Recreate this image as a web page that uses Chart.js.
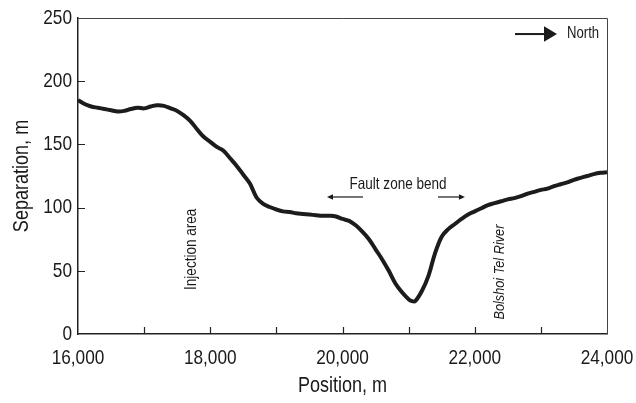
<!DOCTYPE html>
<html>
<head>
<meta charset="utf-8">
<script src="https://cdn.jsdelivr.net/npm/chart.js@4"></script>
<style>
  html, body { margin: 0; padding: 0; background: #fff; }
  #wrap { width: 636px; height: 403px; }
</style>
</head>
<body>
<div id="wrap"><canvas id="c" width="636" height="403"></canvas></div>
<script>
// ---- data ----
const positions = [16000,16100,16200,16300,16400,16500,16600,16700,16800,16900,
  17000,17100,17200,17300,17400,17500,17600,17700,17800,17900,
  18000,18100,18200,18300,18400,18500,18600,18700,18800,18900,
  19000,19100,19200,19300,19400,19500,19600,19700,19800,19900,
  20000,20100,20200,20300,20400,20500,20600,20700,20800,20900,
  21000,21050,21100,21200,21300,21400,21500,21600,21700,21800,21900,
  22000,22100,22200,22300,22400,22500,22600,22700,22800,22900,
  23000,23100,23200,23300,23400,23500,23600,23700,23800,23900,24000];
const separation = [185,182,180,179,178,177,176,176.5,178,179,
  178.5,180,181,180.5,178.5,176.5,173,168.5,162,156,
  152,148,145,139,133,126,119,108,103,100.5,
  98.5,97,96.5,95.5,95,94.5,94,93.5,93.5,93,
  91,89.5,86,81,75,67,59,50,40,33,
  27.5,26,26,34,46,64,77,83,87,91,94.5,
  97,99.5,102,103.5,105,106.5,107.5,109,111,112.5,
  114,115,117,118.5,120,122,123.5,125,126.5,127.5,128];
const yTicks = [0,50,100,150,200,250];
const xTickLabels = ['16,000','18,000','20,000','22,000','24,000'];

// annotations (data units)
const textNotes = [
  {text:'Injection area', x:17720, y:67, rot:-90, italic:false, size:16.5},
  {text:'Bolshoi Tel River', x:22370, y:49, rot:-90, italic:true, size:15.5},
  {text:'Fault zone bend', x:20840, y:118, rot:0, italic:false, align:'center', size:16.5},
  {text:'North', x:23395, y:237.5, rot:0, italic:false, align:'left', size:16}
];
const arrows = [
  {x1:20310, x2:19766, y:108.4, head:6},
  {x1:21444, x2:21852, y:108.4, head:6},
  {x1:22609, x2:23244, y:237.3, head:13}
];

const FONT = '"Liberation Sans", Arial, sans-serif';
const NARROW = 0.82;

const canvas = document.getElementById('c');
const c2d = canvas.getContext('2d');
// condensed text rendering (Arial Narrow look)
const origFill = c2d.fillText.bind(c2d);
const origMeasure = c2d.measureText.bind(c2d);
c2d.fillText = function (t, x, y, mw) {
  this.save();
  this.translate(x, y);
  this.scale(NARROW, 1);
  if (mw !== undefined) origFill(t, 0, 0, mw / NARROW); else origFill(t, 0, 0);
  this.restore();
};
c2d.measureText = function (t) {
  const m = origMeasure(t);
  return {
    width: m.width * NARROW,
    actualBoundingBoxAscent: m.actualBoundingBoxAscent,
    actualBoundingBoxDescent: m.actualBoundingBoxDescent,
    actualBoundingBoxLeft: m.actualBoundingBoxLeft * NARROW,
    actualBoundingBoxRight: m.actualBoundingBoxRight * NARROW
  };
};

const decor = {
  id: 'decor',
  afterDraw(chart) {
    const ctx = chart.ctx, a = chart.chartArea;
    const xs = chart.scales.x, ys = chart.scales.y;
    ctx.save();
    // top/right frame
    ctx.strokeStyle = '#444'; ctx.lineWidth = 1;
    ctx.beginPath();
    ctx.moveTo(a.left, a.top + 0.5); ctx.lineTo(a.right + 0.5, a.top + 0.5); ctx.lineTo(a.right + 0.5, a.bottom);
    ctx.stroke();
    // inward ticks
    ctx.strokeStyle = '#222'; ctx.lineWidth = 1.2;
    ctx.beginPath();
    xs.ticks.forEach(t => {
      if (t.value <= xs.min || t.value >= xs.max) return;
      const px = Math.round(xs.getPixelForValue(t.value)) + 0.5;
      ctx.moveTo(px, a.bottom); ctx.lineTo(px, a.bottom - 7);
    });
    ys.ticks.forEach(t => {
      if (t.value <= ys.min || t.value >= ys.max) return;
      const py = Math.round(ys.getPixelForValue(t.value)) + 0.5;
      ctx.moveTo(a.left, py); ctx.lineTo(a.left + 7, py);
    });
    ctx.stroke();
    // texts
    ctx.fillStyle = '#1a1a1a';
    textNotes.forEach(n => {
      const px = xs.getPixelForValue(n.x), py = ys.getPixelForValue(n.y);
      ctx.save();
      ctx.translate(px, py);
      ctx.rotate(n.rot * Math.PI / 180);
      ctx.font = (n.italic ? 'italic ' : '') + n.size + 'px ' + FONT;
      ctx.textAlign = n.rot ? 'center' : (n.align || 'center');
      ctx.textBaseline = 'middle';
      ctx.fillText(n.text, 0, 0);
      ctx.restore();
    });
    // arrows
    arrows.forEach(ar => {
      const x1 = xs.getPixelForValue(ar.x1), x2 = xs.getPixelForValue(ar.x2), y = ys.getPixelForValue(ar.y);
      const dir = Math.sign(x2 - x1);
      const h = ar.head;
      ctx.strokeStyle = '#1a1a1a';
      ctx.lineWidth = h > 8 ? 2 : 1.2;
      ctx.beginPath(); ctx.moveTo(x1, y); ctx.lineTo(x2 - dir * h * 0.8, y); ctx.stroke();
      ctx.beginPath();
      ctx.moveTo(x2, y);
      ctx.lineTo(x2 - dir * h, y - h * (h > 8 ? 0.6 : 0.45));
      ctx.lineTo(x2 - dir * h, y + h * (h > 8 ? 0.6 : 0.45));
      ctx.closePath(); ctx.fill();
    });
    ctx.restore();
  }
};

new Chart(canvas, {
  type: 'line',
  data: {
    datasets: [{
      data: positions.map((p, i) => ({x: p, y: separation[i]})),
      borderColor: '#1c1c1c',
      borderWidth: 4,
      pointRadius: 0,
      tension: 0.35,
      fill: false
    }]
  },
  options: {
    responsive: false,
    animation: false,
    devicePixelRatio: 1,
    layout: { padding: { top: 18, right: 29, left: 0, bottom: 0 } },
    plugins: { legend: { display: false }, tooltip: { enabled: false } },
    scales: {
      x: {
        type: 'linear', min: 16000, max: 24000,
        afterFit(s) { s.height = 69; s.paddingLeft = 0; s.paddingRight = 0; },
        border: { color: '#222', width: 1.5 },
        grid: { display: true, drawOnChartArea: false, drawTicks: false, color: 'rgba(0,0,0,0)' },
        ticks: {
          stepSize: 1000, padding: 12, maxRotation: 0, autoSkip: false,
          color: '#1a1a1a', font: { family: FONT, size: 21 },
          callback(v) { return v % 2000 === 0 ? xTickLabels[(v - 16000) / 2000] : ''; }
        },
        title: { display: true, text: 'Position, m', color: '#1a1a1a',
          font: { family: FONT, size: 22 }, padding: { top: 0, bottom: 4 } }
      },
      y: {
        min: 0, max: 250,
        afterFit(s) { s.width = 78; s.paddingTop = 0; s.paddingBottom = 0; },
        afterBuildTicks(s) { s.ticks = yTicks.map(v => ({value: v})); },
        border: { color: '#222', width: 1.5 },
        grid: { display: true, drawOnChartArea: false, drawTicks: false, color: 'rgba(0,0,0,0)' },
        ticks: { padding: 6, color: '#1a1a1a', font: { family: FONT, size: 21 } },
        title: { display: true, text: 'Separation, m', color: '#1a1a1a',
          font: { family: FONT, size: 22 }, padding: { top: 9, bottom: 0 } }
      }
    }
  },
  plugins: [decor]
});
</script>
</body>
</html>
